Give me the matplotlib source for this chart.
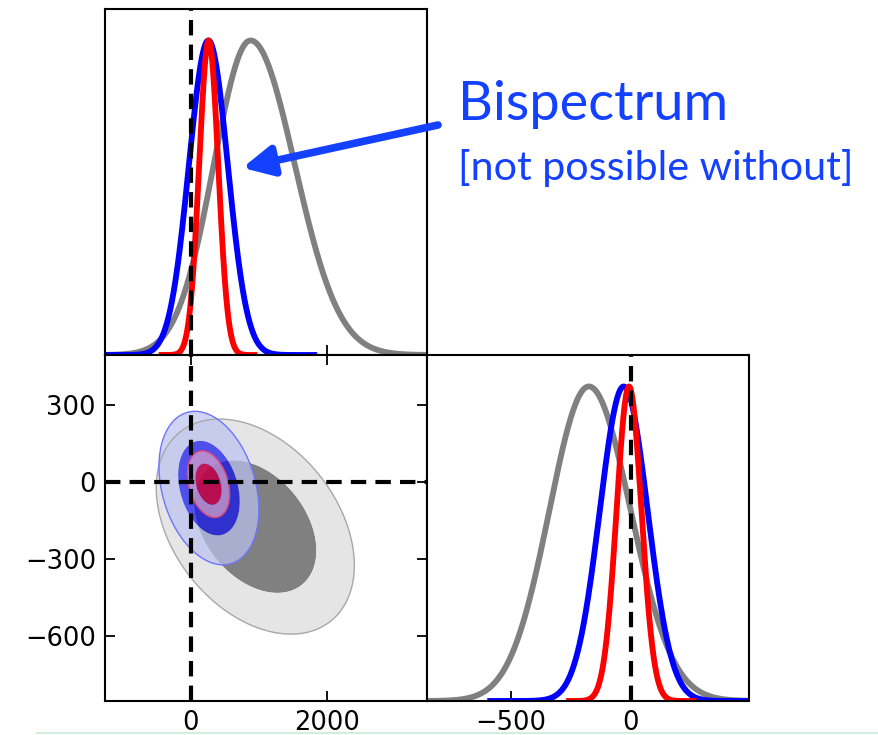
import numpy as np
import matplotlib
matplotlib.use("Agg")
import matplotlib.pyplot as plt
from matplotlib.lines import Line2D

# ---- posterior summaries (parameter A on x, parameter B on y) ----
series = ["power", "bispectrum", "joint"]
line_colors = ["#808080", "#0000ff", "#ff0000"]

# 1D marginals: peak position and left/right widths
a_peak = [880, 260, 265]
a_sig_lo = [540, 285, 140]
a_sig_hi = [650, 285, 140]
a_span = [(-1300, 3500), (-1300, 1860), (-470, 980)]

b_peak = [-175, -29, -7]
b_sig_lo = [165, 100, 52]
b_sig_hi = [175, 100, 52]
b_span = [(-900, 520), (-600, 520), (-270, 276)]

# 2D joint posteriors: centre, widths and correlation
c_a = [950, 268, 262]
c_b = [-173, -23, -8]
s_a = [595, 300, 127]
s_b = [171, 122, 53]
rho = [-0.36, -0.28, -0.30]
cred_levels = [0.68, 0.95]

inner_fill = ["#808080", "#0f0ff0", "#f0001a"]
outer_fill = ["#e5e5e5", "#bbc2f0", "#dea8c4"]
edge_col = ["#a8a8a8", "#6f74ff", "#e0457a"]
fill_alpha = [1.0, 0.7, 0.7]

truth_a, truth_b = 0, 0
a_lim = (-1260, 3475)
b_lim = (-852, 495)
a_ticks = [0, 2000]
b_ticks = [-600, -300, 0, 300]
b_ticks_1d = [-500, 0]

# ---- figure layout ----
W, H = 879, 735
fig = plt.figure(figsize=(W / 100, H / 100), dpi=100)
plt.rcParams["axes.linewidth"] = 1.5

def frac(x0, y0, x1, y1):
    return [x0 / W, 1 - y1 / H, (x1 - x0) / W, (y1 - y0) / H]

ax_a = fig.add_axes(frac(105, 9, 427, 355))
ax_ab = fig.add_axes(frac(105, 355, 427, 701))
ax_b = fig.add_axes(frac(427, 355, 749, 701))

tick_kw = dict(direction="in", length=7, width=1.3, labelsize=18.5, pad=6.5)

def split_normal(x, peak, lo, hi):
    s = np.where(x < peak, lo, hi)
    return np.exp(-0.5 * ((x - peak) / s) ** 2)

dash = (0, (3.7, 2.2))
curve_lw = 4.2

# top: marginal of A
for i in range(len(series)):
    x = np.linspace(*a_span[i], 600)
    ax_a.plot(x, split_normal(x, a_peak[i], a_sig_lo[i], a_sig_hi[i]),
              color=line_colors[i], lw=curve_lw, solid_capstyle="butt")
ax_a.axvline(truth_a, color="k", lw=3, ls=dash, zorder=5)
ax_a.set_xlim(a_lim)
ax_a.set_ylim(0, 1.1)
ax_a.set_xticks(a_ticks)
ax_a.set_yticks([])
ax_a.tick_params(axis="x", labelbottom=False, **tick_kw)

# bottom-right: marginal of B
for i in range(len(series)):
    x = np.linspace(*b_span[i], 600)
    ax_b.plot(x, split_normal(x, b_peak[i], b_sig_lo[i], b_sig_hi[i]),
              color=line_colors[i], lw=curve_lw, solid_capstyle="butt")
ax_b.axvline(truth_b, color="k", lw=3, ls=dash, zorder=5)
ax_b.set_xlim(b_lim)
ax_b.set_ylim(0, 1.1)
ax_b.set_xticks(b_ticks_1d)
ax_b.set_yticks([])
ax_b.tick_params(axis="x", **tick_kw)

# bottom-left: joint A-B contours
ga = np.linspace(a_lim[0] - 200, a_lim[1] + 200, 500)
gb = np.linspace(b_lim[0] - 100, b_lim[1] + 100, 500)
GA, GB = np.meshgrid(ga, gb)
chi2 = [-2 * np.log(1 - p) for p in cred_levels]
for i in range(len(series)):
    da = (GA - c_a[i]) / s_a[i]
    db = (GB - c_b[i]) / s_b[i]
    m2 = (da ** 2 - 2 * rho[i] * da * db + db ** 2) / (1 - rho[i] ** 2)
    ax_ab.contourf(GA, GB, m2, levels=[0, chi2[0], chi2[1]],
                   colors=[inner_fill[i], outer_fill[i]], alpha=fill_alpha[i],
                   antialiased=True)
    ax_ab.contour(GA, GB, m2, levels=[chi2[1]], colors=[edge_col[i]],
                  linewidths=1.0)
ax_ab.axvline(truth_a, color="k", lw=3, ls=dash, zorder=5)
ax_ab.axhline(truth_b, color="k", lw=3, ls=dash, zorder=5)
ax_ab.set_xlim(a_lim)
ax_ab.set_ylim(b_lim)
ax_ab.set_xticks(a_ticks)
ax_ab.set_yticks(b_ticks)
ax_ab.tick_params(top=True, right=True, **tick_kw)

# annotation
txt_col = "#1440ff"
fig.text(458 / W, 1 - 120 / H, "Bispectrum", color=txt_col,
         fontsize=39, family="Lato", va="baseline", ha="left")
fig.text(458 / W, 1 - 180 / H, "[not possible without]", color=txt_col,
         fontsize=29.7, family="Lato", va="baseline", ha="left")
ax_a.annotate("", xy=(760, 0.595), xycoords="data",
              xytext=(438 / W, 1 - 125 / H), textcoords="figure fraction",
              annotation_clip=False,
              arrowprops=dict(arrowstyle="-|>,head_length=0.9,head_width=0.45",
                              mutation_scale=20, lw=5.5, color=txt_col,
                              shrinkA=0, shrinkB=0))

fig.add_artist(Line2D([37 / W, 1], [1 - 733 / H] * 2, transform=fig.transFigure,
                      color="#d5ece0", lw=1.5))

fig.savefig("out.png", dpi=100)
